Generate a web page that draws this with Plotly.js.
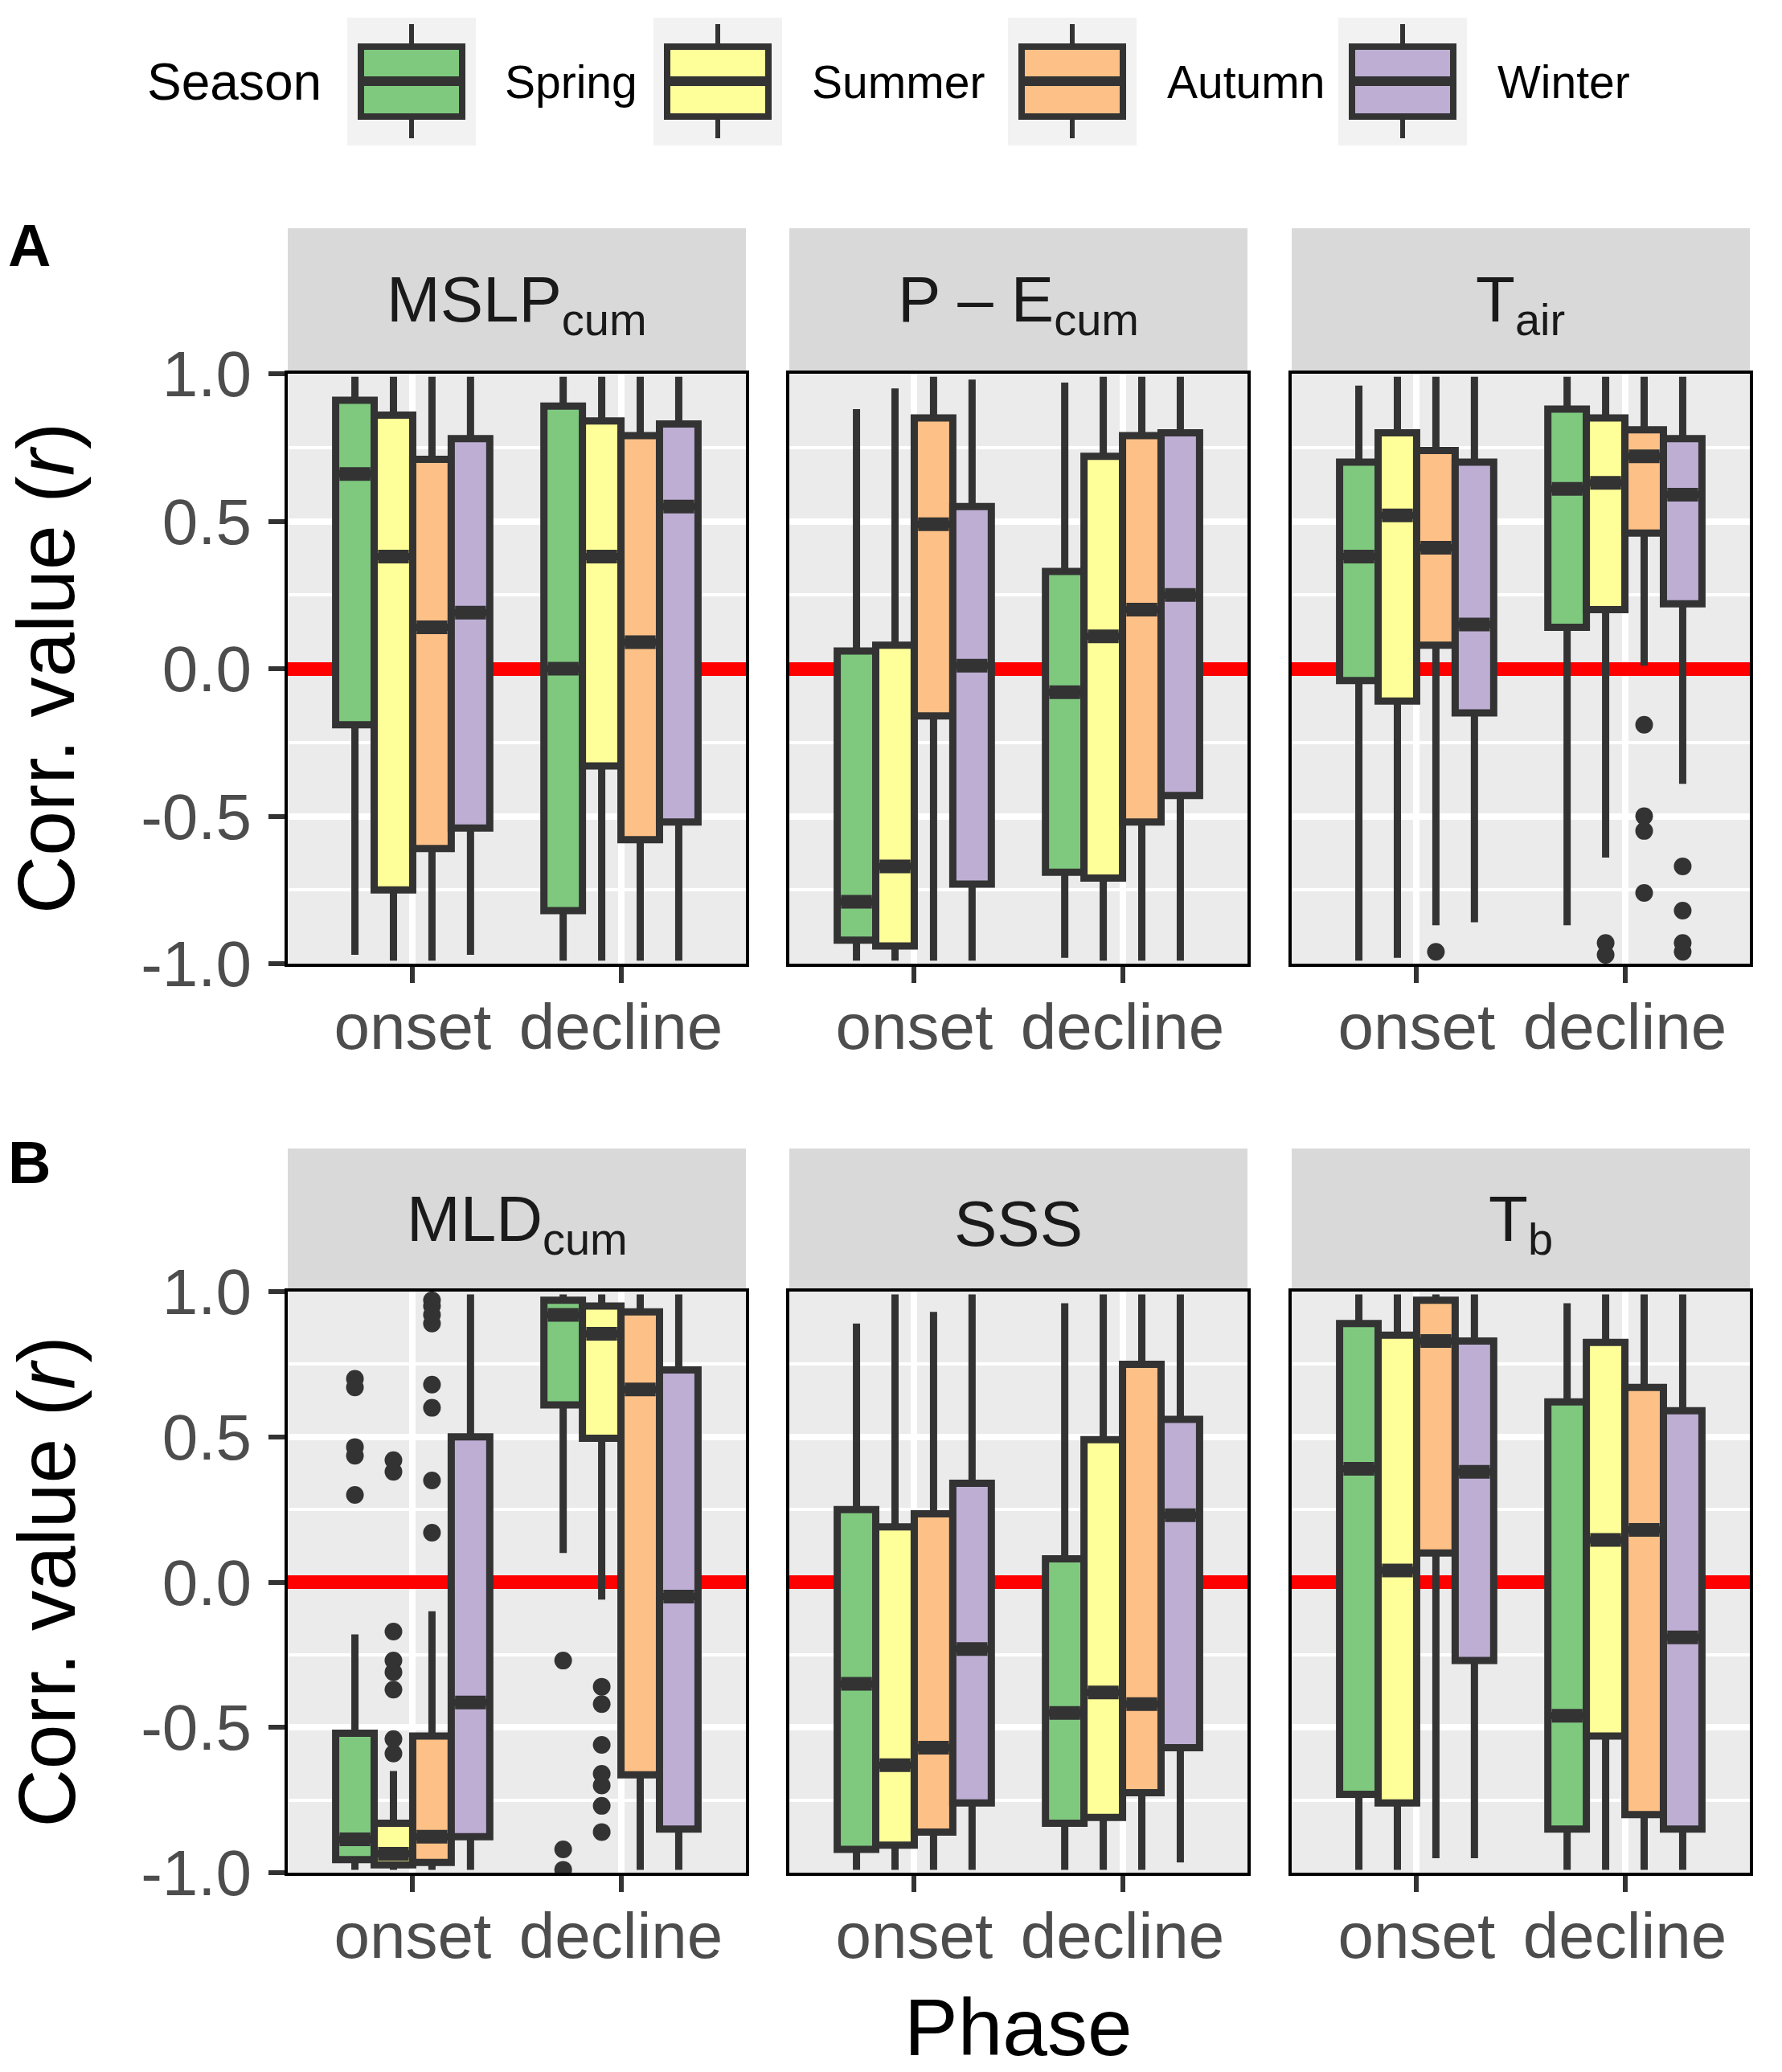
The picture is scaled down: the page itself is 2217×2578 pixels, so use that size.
<!DOCTYPE html>
<html>
<head>
<meta charset="utf-8">
<script src="https://cdn.plot.ly/plotly-3.0.1.min.js"></script>
<style>
html, body { margin: 0; padding: 0; background: #ffffff; }
#chart { width: 2217px; height: 2578px; }
</style>
</head>
<body>
<div id="chart"></div>
<script>
// ---------------- DATA ----------------
const seasons = ['Spring', 'Summer', 'Autumn', 'Winter'];
const seasonColors = ['#7FC97F', '#FFFF99', '#FDC086', '#BEAED4'];
const phases = ['onset', 'decline'];
const phasePos = [1, 2];
const panelTitles = ['MSLP<sub>cum</sub>', 'P \u2013 E<sub>cum</sub>', 'T<sub>air</sub>',
                     'MLD<sub>cum</sub>', 'SSS', 'T<sub>b</sub>'];
const yTickVals = [-1, -0.5, 0, 0.5, 1];
const yTickText = ['-1.0', '-0.5', '0.0', '0.5', '1.0'];
const yMinorVals = [-0.75, -0.25, 0.25, 0.75];

// every stat array: one row per season (Spring, Summer, Autumn, Winter), columns [onset, decline]
// MSLP_cum
const MSLP_hi  = [[0.99, 0.99], [0.99, 0.99], [0.99, 0.99], [0.99, 0.99]];
const MSLP_q3  = [[0.91, 0.89], [0.86, 0.84], [0.71, 0.79], [0.78, 0.83]];
const MSLP_med = [[0.66, 0.00], [0.38, 0.38], [0.14, 0.09], [0.19, 0.55]];
const MSLP_q1  = [[-0.19, -0.82], [-0.75, -0.33], [-0.61, -0.58], [-0.54, -0.52]];
const MSLP_lo  = [[-0.97, -0.99], [-0.99, -0.99], [-0.99, -0.99], [-0.97, -0.99]];
const MSLP_out = [[[], []], [[], []], [[], []], [[], []]];

// P - E_cum
const PE_hi  = [[0.88, 0.97], [0.95, 0.99], [0.99, 0.99], [0.98, 0.99]];
const PE_q3  = [[0.06, 0.33], [0.08, 0.72], [0.85, 0.79], [0.55, 0.80]];
const PE_med = [[-0.79, -0.08], [-0.67, 0.11], [0.49, 0.20], [0.01, 0.25]];
const PE_q1  = [[-0.92, -0.69], [-0.94, -0.71], [-0.16, -0.52], [-0.73, -0.43]];
const PE_lo  = [[-0.99, -0.98], [-0.99, -0.99], [-0.99, -0.99], [-0.99, -0.99]];
const PE_out = [[[], []], [[], []], [[], []], [[], []]];

// T_air
const Tair_hi  = [[0.96, 0.99], [0.99, 0.99], [0.99, 0.99], [0.99, 0.99]];
const Tair_q3  = [[0.70, 0.88], [0.80, 0.85], [0.74, 0.81], [0.70, 0.78]];
const Tair_med = [[0.38, 0.61], [0.52, 0.63], [0.41, 0.72], [0.15, 0.59]];
const Tair_q1  = [[-0.04, 0.14], [-0.11, 0.20], [0.08, 0.46], [-0.15, 0.22]];
const Tair_lo  = [[-0.99, -0.87], [-0.98, -0.64], [-0.87, 0.01], [-0.86, -0.39]];
const Tair_out = [[[], []], [[], [-0.93, -0.97]], [[-0.96], [-0.19, -0.50, -0.55, -0.76]], [[], [-0.67, -0.82, -0.93, -0.96]]];

// MLD_cum
const MLD_hi  = [[-0.18, 0.99], [-0.65, 0.99], [-0.10, 0.99], [0.99, 0.99]];
const MLD_q3  = [[-0.52, 0.97], [-0.83, 0.95], [-0.53, 0.93], [0.50, 0.73]];
const MLD_med = [[-0.885, 0.92], [-0.935, 0.855], [-0.876, 0.663], [-0.414, -0.05]];
const MLD_q1  = [[-0.955, 0.61], [-0.973, 0.495], [-0.965, -0.663], [-0.876, -0.85]];
const MLD_lo  = [[-0.99, 0.10], [-0.99, -0.06], [-0.99, -0.99], [-0.99, -0.99]];
const MLD_out = [
  [[0.70, 0.67, 0.465, 0.435, 0.30], [-0.27, -0.92, -0.99]],
  [[0.42, 0.38, -0.17, -0.27, -0.31, -0.37, -0.54, -0.59], [-0.36, -0.42, -0.56, -0.66, -0.70, -0.77, -0.86]],
  [[0.97, 0.95, 0.92, 0.89, 0.68, 0.60, 0.35, 0.17], []],
  [[], []]
];

// SSS
const SSS_hi  = [[0.89, 0.96], [0.99, 0.99], [0.93, 0.99], [0.99, 0.99]];
const SSS_q3  = [[0.25, 0.08], [0.19, 0.49], [0.235, 0.75], [0.34, 0.56]];
const SSS_med = [[-0.35, -0.45], [-0.63, -0.38], [-0.57, -0.42], [-0.23, 0.23]];
const SSS_q1  = [[-0.92, -0.83], [-0.905, -0.81], [-0.86, -0.725], [-0.76, -0.57]];
const SSS_lo  = [[-0.99, -0.99], [-0.99, -0.99], [-0.99, -0.99], [-0.99, -0.965]];
const SSS_out = [[[], []], [[], []], [[], []], [[], []]];

// T_b
const Tb_hi  = [[0.99, 0.96], [0.99, 0.99], [0.99, 0.99], [0.99, 0.99]];
const Tb_q3  = [[0.89, 0.62], [0.85, 0.825], [0.97, 0.67], [0.83, 0.59]];
const Tb_med = [[0.39, -0.46], [0.04, 0.145], [0.83, 0.18], [0.38, -0.19]];
const Tb_q1  = [[-0.73, -0.85], [-0.76, -0.53], [0.10, -0.80], [-0.27, -0.85]];
const Tb_lo  = [[-0.99, -0.99], [-0.99, -0.99], [-0.95, -0.99], [-0.95, -0.99]];
const Tb_out = [[[], []], [[], []], [[], []], [[], []]];

// ---------------- BUILD ----------------
const W = 2217, H = 2578;
const FONT = 'Liberation Sans, Arial, Helvetica, sans-serif';
const px = v => v / W;
const py = v => 1 - v / H;

const panels = [
  { title: panelTitles[0], hi: MSLP_hi, q3: MSLP_q3, med: MSLP_med, q1: MSLP_q1, lo: MSLP_lo, out: MSLP_out },
  { title: panelTitles[1], hi: PE_hi,   q3: PE_q3,   med: PE_med,   q1: PE_q1,   lo: PE_lo,   out: PE_out },
  { title: panelTitles[2], hi: Tair_hi, q3: Tair_q3, med: Tair_med, q1: Tair_q1, lo: Tair_lo, out: Tair_out },
  { title: panelTitles[3], hi: MLD_hi,  q3: MLD_q3,  med: MLD_med,  q1: MLD_q1,  lo: MLD_lo,  out: MLD_out },
  { title: panelTitles[4], hi: SSS_hi,  q3: SSS_q3,  med: SSS_med,  q1: SSS_q1,  lo: SSS_lo,  out: SSS_out },
  { title: panelTitles[5], hi: Tb_hi,   q3: Tb_q3,   med: Tb_med,   q1: Tb_q1,   lo: Tb_lo,   out: Tb_out }
];

// layout geometry (pixels)
const colX = [[358, 928], [982, 1552], [1607, 2177]];
const rowY = [[465, 1199], [1607, 2330]];      // plot area top/bottom
const stripY = [[284, 465], [1429, 1607]];     // strip top/bottom

const boxW = 0.185;
const offs = [-1.5, -0.5, 0.5, 1.5].map(k => k * boxW);
const EDGE = '#333333';

const traces = [];
const layout = {
  width: W, height: H,
  margin: { l: 0, r: 0, t: 0, b: 0 },
  paper_bgcolor: '#ffffff',
  plot_bgcolor: '#EBEBEB',
  showlegend: false,
  hovermode: false,
  boxgap: 0, boxgroupgap: 0,
  font: { family: FONT, color: '#000000' },
  shapes: [],
  annotations: []
};

panels.forEach((p, k) => {
  const col = k % 3, row = Math.floor(k / 3);
  const n = k + 1;
  const xa = 'x' + n, ya = 'y' + n;

  seasons.forEach((s, i) => {
    const xs = phasePos.map(t => t + offs[i]);
    traces.push({
      type: 'box', name: s, x: xs,
      q1: p.q1[i], median: p.med[i], q3: p.q3[i],
      lowerfence: p.lo[i], upperfence: p.hi[i],
      width: boxW, whiskerwidth: 0, boxpoints: false,
      fillcolor: seasonColors[i], line: { color: EDGE, width: 9 },
      xaxis: xa, yaxis: ya, showlegend: false
    });
    // thicker median bar
    traces.push({
      type: 'box', name: s + ' median', x: xs,
      q1: p.med[i], median: p.med[i], q3: p.med[i],
      lowerfence: p.med[i], upperfence: p.med[i],
      width: boxW * 0.8, whiskerwidth: 0, boxpoints: false,
      fillcolor: 'rgba(0,0,0,0)', line: { color: EDGE, width: 17 },
      xaxis: xa, yaxis: ya, showlegend: false
    });
    const ox = [], oy = [];
    p.out[i].forEach((vals, j) => vals.forEach(v => { ox.push(phasePos[j] + offs[i]); oy.push(v); }));
    if (ox.length) {
      traces.push({
        type: 'scatter', mode: 'markers', x: ox, y: oy,
        marker: { size: 22, color: EDGE, line: { width: 0 } },
        xaxis: xa, yaxis: ya, showlegend: false
      });
    }
  });

  const xdom = [px(colX[col][0]), px(colX[col][1])];
  const ydom = [py(rowY[row][1]), py(rowY[row][0])];
  layout['xaxis' + (n === 1 ? '' : n)] = {
    domain: xdom, anchor: ya, range: [0.4, 2.6],
    tickmode: 'array', tickvals: phasePos, ticktext: phases,
    ticks: 'outside', ticklen: 20, tickwidth: 6, tickcolor: EDGE,
    ticklabelstandoff: -14,
    tickfont: { family: FONT, size: 80, color: '#4D4D4D' },
    showgrid: true, gridcolor: '#FFFFFF', gridwidth: 8,
    zeroline: false, showline: true, mirror: true,
    linecolor: '#000000', linewidth: 4, fixedrange: true
  };
  layout['yaxis' + (n === 1 ? '' : n)] = {
    domain: ydom, anchor: xa, range: [-1, 1],
    tickmode: 'array', tickvals: yTickVals, ticktext: yTickText,
    showticklabels: col === 0,
    ticks: col === 0 ? 'outside' : '', ticklen: 20, tickwidth: 6, tickcolor: EDGE,
    ticklabelstandoff: 5,
    tickfont: { family: FONT, size: 80, color: '#4D4D4D' },
    showgrid: true, gridcolor: '#FFFFFF', gridwidth: 8,
    minor: { tickvals: yMinorVals, showgrid: true, gridcolor: '#FFFFFF', gridwidth: 4, ticks: '' },
    zeroline: true, zerolinecolor: '#FF0000', zerolinewidth: 17,
    showline: true, mirror: true, linecolor: '#000000', linewidth: 4, fixedrange: true
  };

  // strip
  layout.shapes.push({
    type: 'rect', xref: 'paper', yref: 'paper', layer: 'below',
    x0: xdom[0], x1: xdom[1], y0: py(stripY[row][1]), y1: py(stripY[row][0]),
    fillcolor: '#D9D9D9', line: { width: 0 }
  });
  layout.annotations.push({
    xref: 'paper', yref: 'paper',
    x: (xdom[0] + xdom[1]) / 2, y: py((stripY[row][0] + stripY[row][1]) / 2 + 4),
    xanchor: 'center', yanchor: 'middle', showarrow: false,
    text: p.title, font: { family: FONT, size: 80, color: '#1A1A1A' }
  });
});

// y titles
rowY.forEach(r => {
  layout.annotations.push({
    xref: 'paper', yref: 'paper', x: px(57), y: py((r[0] + r[1]) / 2),
    xanchor: 'center', yanchor: 'middle', showarrow: false, textangle: -90,
    text: 'Corr. value (<i>r</i>)', font: { family: FONT, size: 100, color: '#000000' }
  });
});
// x title
layout.annotations.push({
  xref: 'paper', yref: 'paper', x: px(1267), y: py(2522),
  xanchor: 'center', yanchor: 'middle', showarrow: false,
  text: 'Phase', font: { family: FONT, size: 100, color: '#000000' }
});
// panel tags
[['A', 305], ['B', 1446]].forEach(([t, yy]) => {
  layout.annotations.push({
    xref: 'paper', yref: 'paper', x: px(8), y: py(yy),
    xanchor: 'left', yanchor: 'middle', showarrow: false,
    text: '<b>' + t + '</b>', font: { family: FONT, size: 74, color: '#000000' }
  });
});

// legend (drawn manually as ggplot-style keys)
const legendKeyX = [432, 813, 1254, 1665];
const legendTextX = [626, 1008, 1450, 1861];
layout.annotations.push({
  xref: 'paper', yref: 'paper', x: px(181), y: py(102),
  xanchor: 'left', yanchor: 'middle', showarrow: false,
  text: 'Season', font: { family: FONT, size: 64, color: '#000000' }
});
seasons.forEach((s, i) => {
  const x0 = legendKeyX[i];
  const rectPx = (a, b, c, d, fill, lw) => ({
    type: 'rect', xref: 'paper', yref: 'paper',
    x0: px(a), x1: px(b), y0: py(d), y1: py(c),
    fillcolor: fill, line: lw ? { color: EDGE, width: lw } : { width: 0 }
  });
  const linePx = (a, c, b, d, lw) => ({
    type: 'line', xref: 'paper', yref: 'paper',
    x0: px(a), x1: px(b), y0: py(c), y1: py(d),
    line: { color: EDGE, width: lw }
  });
  layout.shapes.push(rectPx(x0, x0 + 160, 22, 181, '#F2F2F2', 0));
  layout.shapes.push(linePx(x0 + 80, 30, x0 + 80, 58, 6));
  layout.shapes.push(linePx(x0 + 80, 145, x0 + 80, 172, 6));
  layout.shapes.push(rectPx(x0 + 17, x0 + 143, 58, 145, seasonColors[i], 8));
  layout.shapes.push(linePx(x0 + 17, 101, x0 + 143, 101, 12));
  layout.annotations.push({
    xref: 'paper', yref: 'paper', x: px(legendTextX[i]), y: py(102),
    xanchor: 'left', yanchor: 'middle', showarrow: false,
    text: s, font: { family: FONT, size: 57, color: '#000000' }
  });
});

Plotly.newPlot('chart', traces, layout, { staticPlot: true, displayModeBar: false });
</script>
</body>
</html>
